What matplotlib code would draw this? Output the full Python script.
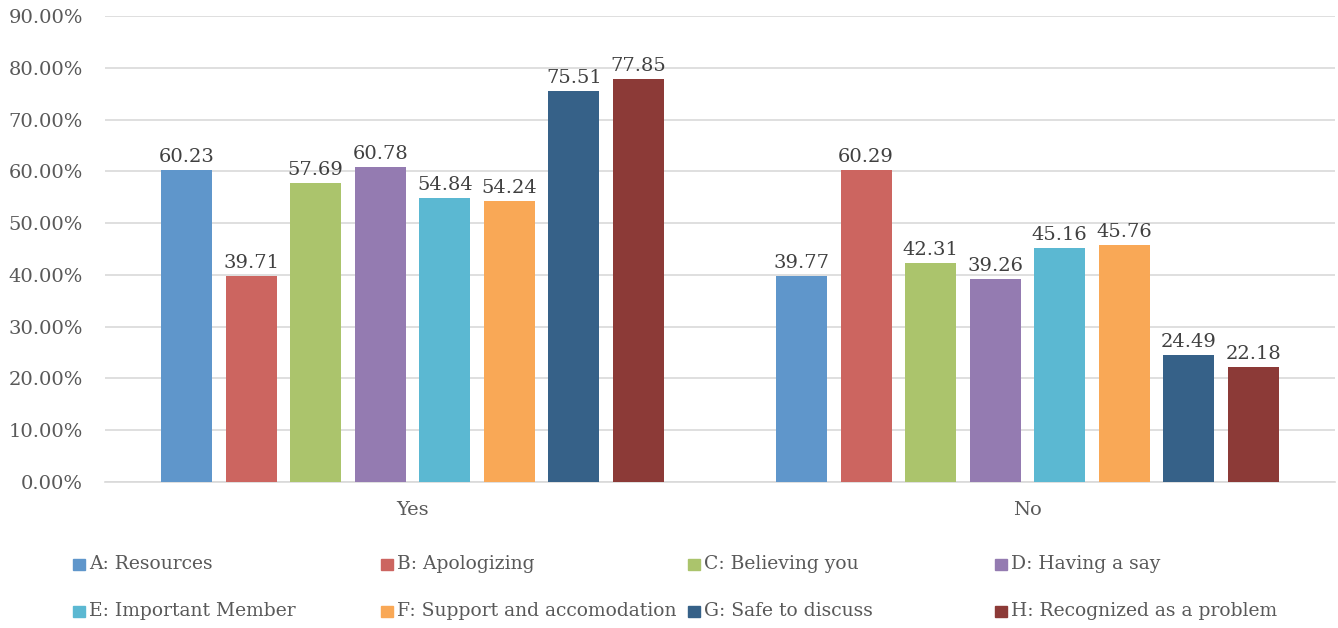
import matplotlib
matplotlib.use("Agg")
import matplotlib.pyplot as plt
import numpy as np
from matplotlib.patches import Rectangle

groups = ["Yes", "No"]
series = ["A: Resources", "B: Apologizing", "C: Believing you", "D: Having a say",
          "E: Important Member", "F: Support and accomodation", "G: Safe to discuss",
          "H: Recognized as a problem"]
yes_vals = [60.23, 39.71, 57.69, 60.78, 54.84, 54.24, 75.51, 77.85]
no_vals = [39.77, 60.29, 42.31, 39.26, 45.16, 45.76, 24.49, 22.18]
colors = ["#5F96CB", "#CC6560", "#ABC46C", "#947BB1", "#5BB8D2", "#F9A856",
          "#366188", "#8C3A37"]
yticks = np.arange(0, 91, 10)

TXT = "#595959"
GRID = "#D9D9D9"
plt.rcParams["font.family"] = ["DejaVu Serif"]

fig = plt.figure(figsize=(13.38, 6.28), dpi=100)
ax = fig.add_axes([105 / 1338, 146 / 628, 1230 / 1338, 466 / 628])

x = np.arange(len(groups))
step, width = 0.105, 0.083
for i, name in enumerate(series):
    vals = [yes_vals[i], no_vals[i]]
    bars = ax.bar(x + (i - 3.5) * step, vals, width, color=colors[i], zorder=3, label=name)
    for b, v in zip(bars, vals):
        ax.annotate(f"{v:.2f}", (b.get_x() + b.get_width() / 2, v), xytext=(0, 3),
                    textcoords="offset points", ha="center", va="bottom",
                    color="#404040", fontsize=14)

ax.set_xlim(-0.5, 1.5)
ax.set_ylim(0, 90)
ax.set_yticks(yticks)
ax.set_yticklabels([f"{t:.2f}%" for t in yticks])
ax.set_xticks(x)
ax.set_xticklabels(groups)
ax.tick_params(axis="y", length=0, pad=16, labelsize=14, labelcolor=TXT)
ax.tick_params(axis="x", length=0, pad=14, labelsize=14, labelcolor=TXT)
ax.grid(axis="y", color=GRID, lw=1.2, zorder=0)
for s in ["top", "right", "left"]:
    ax.spines[s].set_visible(False)
ax.spines["bottom"].set_color(GRID)
ax.spines["bottom"].set_linewidth(1.2)

# legend laid out in two rows of four, like the spreadsheet export
col_x = [73, 381, 688, 995]
row_y = [564, 611]
W, H = 1338, 628
for i, name in enumerate(series):
    cx = col_x[i % 4]
    cy = row_y[i // 4]
    fig.add_artist(Rectangle((cx / W, 1 - (cy + 5.5) / H), 12 / W, 11 / H,
                             transform=fig.transFigure, color=colors[i]))
    fig.text((cx + 16) / W, 1 - cy / H, name, ha="left", va="center",
             color=TXT, fontsize=13.5)

fig.savefig("out.png", dpi=100, facecolor="white")
